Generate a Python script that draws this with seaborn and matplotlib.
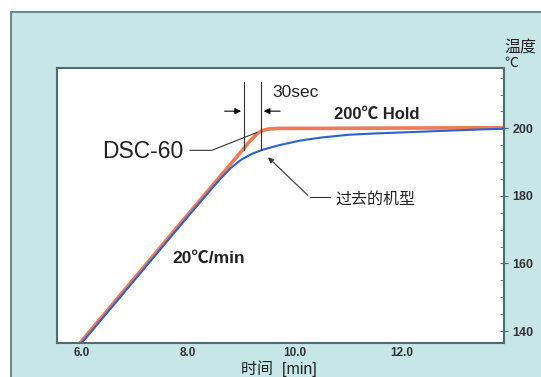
import matplotlib
matplotlib.use('Agg')
import pandas as pd
import matplotlib.pyplot as plt
import seaborn as sns
from matplotlib.patches import Rectangle
from matplotlib.ticker import MultipleLocator, FormatStrFormatter

# DSC-60 curve (min, degC)
new_time = [5.97, 7.0, 8.0, 8.6, 8.9, 9.15, 9.3, 9.4, 9.5, 9.7, 10.5, 12.0, 13.92]
new_temp = [136.4, 155.8, 174.6, 185.8, 191.4, 196.1, 198.6, 199.4, 199.8, 200.0, 200.0, 200.1, 200.2]

# previous model curve
old_time = [6.0, 7.0, 8.0, 8.4, 8.6, 8.8, 9.0, 9.2, 9.4, 9.7, 10.1, 10.5, 11.0,
            11.5, 12.0, 12.5, 13.0, 13.5, 13.92]
old_temp = [136.4, 155.2, 174.0, 181.4, 185.0, 188.3, 190.8, 192.5, 193.7, 195.0,
            196.4, 197.3, 198.1, 198.5, 198.8, 199.1, 199.4, 199.7, 199.9]

x_ticks = [6.0, 8.0, 10.0, 12.0]
y_ticks = [140, 160, 180, 200]

sns.set_style('white')
plt.rcParams['font.family'] = ['Liberation Sans', 'Noto Sans CJK SC', 'DejaVu Sans']

df_new = pd.DataFrame({'time': new_time, 'temp': new_temp})
df_old = pd.DataFrame({'time': old_time, 'temp': old_temp})

fig = plt.figure(figsize=(5.41, 3.77), dpi=100)
fig.patch.set_facecolor('white')

# cyan panel behind the plot
panel = Rectangle((11 / 541, -0.1), 1.2, 1 - 12 / 377 + 0.1, transform=fig.transFigure,
                  facecolor='#c6e6e8', edgecolor='#5f7f85', lw=1.3, zorder=0)
fig.add_artist(panel)

ax = fig.add_axes([0.1054, 0.0902, 0.8262, 0.7305])
ax.set_facecolor('white')

sns.lineplot(data=df_new, x='time', y='temp', ax=ax, color='#f07a55', lw=2.6, sort=False)
sns.lineplot(data=df_old, x='time', y='temp', ax=ax, color='#2f5fd0', lw=1.5, sort=False)

ax.set_xlim(5.54, 13.92)
ax.set_ylim(136.45, 218)
ax.set_xlabel('')
ax.set_ylabel('')

ax.set_xticks(x_ticks)
ax.xaxis.set_minor_locator(MultipleLocator(0.5))
ax.xaxis.set_major_formatter(FormatStrFormatter('%.1f'))
ax.set_yticks(y_ticks)
ax.yaxis.set_minor_locator(MultipleLocator(5))
ax.yaxis.tick_right()
ax.tick_params(axis='x', which='major', direction='in', length=4, width=0.8,
               colors='#4d6d72', labelcolor='#333333', labelsize=8.5, pad=3)
ax.tick_params(axis='x', which='minor', direction='in', length=3, width=0.6, colors='#4d6d72')
ax.tick_params(axis='y', which='major', direction='inout', length=6, width=0.8,
               colors='#4d6d72', labelcolor='#333333', labelsize=9, pad=3)
ax.tick_params(axis='y', which='minor', direction='in', length=3, width=0.6, colors='#4d6d72')
for lab in ax.get_xticklabels() + ax.get_yticklabels():
    lab.set_fontweight('bold')

for sp in ax.spines.values():
    sp.set_color('#4d6d72')
    sp.set_linewidth(1.5)

# axis titles
fig.text(504 / 541, 1 - 48 / 377, '温度', fontsize=11.5, ha='left', va='center', color='#222222')
fig.text(504 / 541, 1 - 63 / 377, '℃', fontsize=10, ha='left', va='center', color='#222222')
fig.text(279 / 541, 1 - 369 / 377, '时间  [min]', fontsize=11.5, ha='center', va='center',
         color='#222222')

# 30 sec markers
ax.plot([9.043, 9.043], [193.5, 213.6], color='#333333', lw=0.8)
ax.plot([9.362, 9.362], [193.5, 213.6], color='#333333', lw=0.8)
ax.annotate('', xy=(9.043, 205.1), xytext=(8.63, 205.1),
            arrowprops=dict(arrowstyle='-|>', color='black', lw=0.8, mutation_scale=9))
ax.annotate('', xy=(9.362, 205.1), xytext=(9.775, 205.1),
            arrowprops=dict(arrowstyle='-|>', color='black', lw=0.8, mutation_scale=9))
ax.text(9.57, 210.6, '30sec', fontsize=12.5, ha='left', va='center', color='#222222')

ax.text(10.73, 204.1, '200℃ Hold', fontsize=12, fontweight='bold', ha='left',
        va='center', color='#222222')
ax.text(7.71, 161.6, '20℃/min', fontsize=12.5, fontweight='bold', ha='left',
        va='center', color='#222222')

# DSC-60 label and leader
ax.text(7.90, 193.2, 'DSC-60', fontsize=16.5, ha='right', va='center', color='#222222')
ax.plot([8.03, 8.44, 9.29], [193.5, 193.5, 198.8], color='#333333', lw=0.8)

# previous model label and leader
ax.text(10.75, 179.0, '过去的机型', fontsize=11.5, ha='left', va='center', color='#222222')
ax.plot([10.28, 10.66], [179.6, 179.6], color='#333333', lw=0.8)
ax.annotate('', xy=(9.46, 192.0), xytext=(10.28, 179.6),
            arrowprops=dict(arrowstyle='-|>', color='#333333', lw=0.8, mutation_scale=8))

fig.savefig('out.png', dpi=100)
